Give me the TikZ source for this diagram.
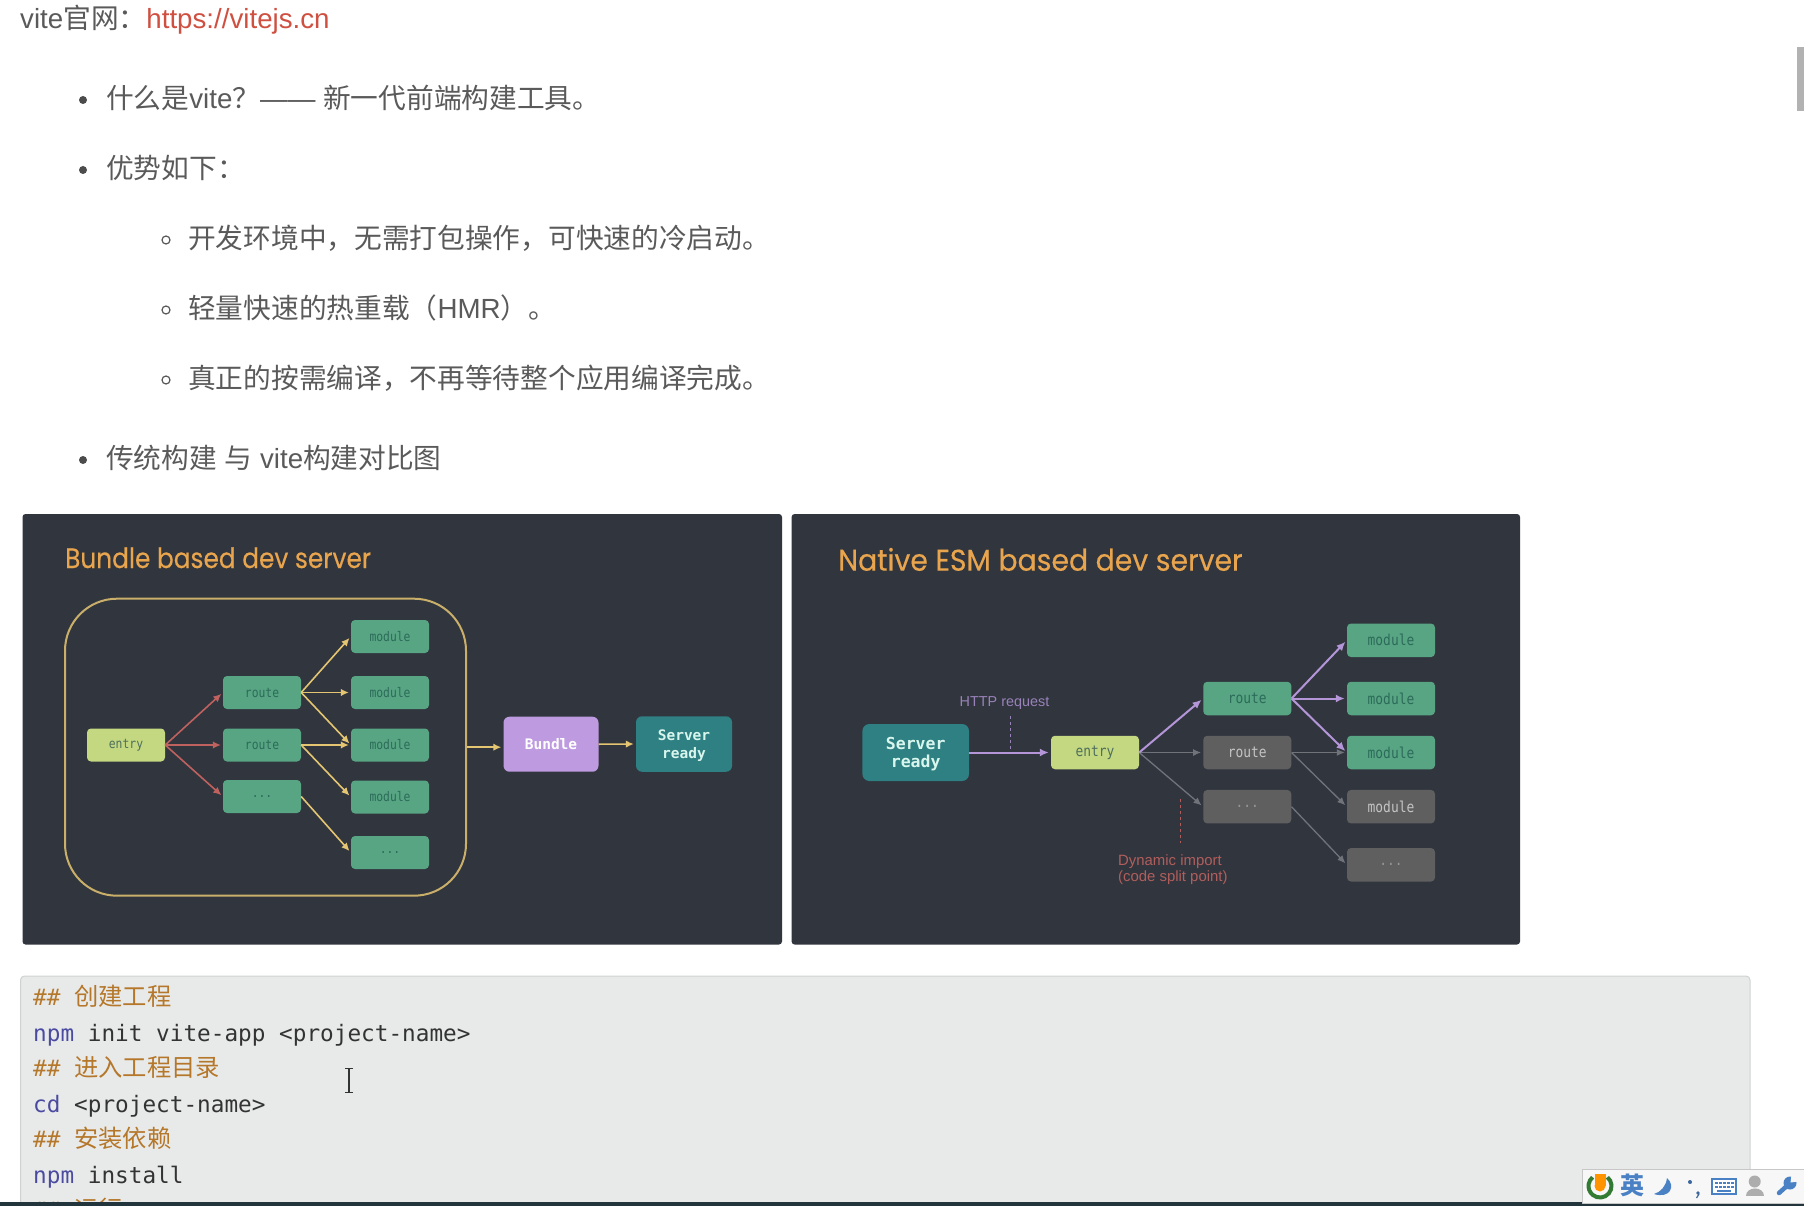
\documentclass[tikz,border=0pt]{standalone}
\usepackage{fontspec}
\usetikzlibrary{arrows.meta}
\setmainfont{Liberation Sans}
\newfontfamily\cjk{Noto Sans CJK SC}
\newfontfamily\codefont{DejaVu Sans Mono}
\newfontfamily\narrowcode[FakeStretch=0.86]{DejaVu Sans Mono}
\newfontfamily\titlefont[FakeStretch=0.886,FakeBold=0.3]{Poppins}
\newfontfamily\titlefontb[FakeStretch=0.943,FakeBold=0.3]{Poppins}
\definecolor{panelbg}{HTML}{31353E}
\definecolor{modfill}{HTML}{58A583}
\definecolor{modtext}{HTML}{2C6B5A}
\definecolor{entryfill}{HTML}{C3D880}
\definecolor{entrytext}{HTML}{4F6F5C}
\definecolor{bundlefill}{HTML}{BE9BE0}
\definecolor{serverfill}{HTML}{2F8082}
\definecolor{servertext}{HTML}{D8F6EE}
\definecolor{grayfill}{HTML}{5F5F60}
\definecolor{graytext}{HTML}{C4C4C4}
\definecolor{yellowline}{HTML}{E4C572}
\definecolor{redline}{HTML}{BF625F}
\definecolor{purpleline}{HTML}{B395D8}
\definecolor{greyline}{HTML}{70737A}
\definecolor{titleorange}{HTML}{E8A54E}
\definecolor{bodygray}{HTML}{5A5A5A}
\definecolor{linkred}{HTML}{CF5040}
\definecolor{codebg}{HTML}{E8EAEA}
\definecolor{codeborder}{HTML}{D0D2D2}
\definecolor{codebrown}{HTML}{B5772A}
\definecolor{codeblue}{HTML}{4A4AA0}
\definecolor{codeink}{HTML}{333333}
\definecolor{barcolor}{HTML}{22343C}
\definecolor{imeblue}{HTML}{4A80C4}
\definecolor{imebg}{HTML}{F7F7F7}
\tikzset{
  x=1pt,y=-1pt,
  panel/.style={fill=panelbg,draw=none,rounded corners=3pt},
  bx/.style={rounded corners=4pt,draw=none,inner sep=0pt,align=center},
  lmod/.style={bx,fill=modfill,text=modtext,minimum width=78pt,minimum height=33pt,font=\narrowcode\fontsize{13.2}{14}\selectfont},
  lentry/.style={lmod,fill=entryfill,text=entrytext},
  rmod/.style={bx,fill=modfill,text=modtext,minimum width=88pt,minimum height=33.5pt,font=\narrowcode\fontsize{15}{16}\selectfont},
  rgray/.style={rmod,fill=grayfill,text=graytext},
  rentry/.style={rmod,fill=entryfill,text=entrytext},
  bigtext/.style={bx,font=\codefont\bfseries\fontsize{14.5}{18}\selectfont},
  yarrow/.style={draw=yellowline,line width=1.6pt,-{Latex[length=8pt,width=7.5pt]},shorten >=2pt},
  rarrow/.style={draw=redline,line width=1.6pt,-{Latex[length=8pt,width=7.5pt]},shorten >=2pt},
  parrow/.style={draw=purpleline,line width=2pt,-{Latex[length=9pt,width=8pt]},shorten >=2pt},
  garrow/.style={draw=greyline,line width=1.3pt,-{Latex[length=8pt,width=7pt]},shorten >=2pt},
  titletext/.style={inner sep=0pt,anchor=base west,text=titleorange,font=\titlefont\fontsize{28}{30}\selectfont},
  bodytext/.style={inner sep=0pt,anchor=base west,text=bodygray,font=\fontsize{27.7}{30}\selectfont},
  codetext/.style={inner sep=0pt,anchor=base west,text=codeink,font=\codefont\fontsize{22.7}{26}\selectfont},
  bulletfull/.style={circle,fill=bodygray!85!black,draw=none,inner sep=0pt,minimum size=8pt},
  bullethollow/.style={circle,draw=bodygray,line width=1.2pt,fill=white,inner sep=0pt,minimum size=8pt},
}
\begin{document}
\begin{tikzpicture}
\useasboundingbox (0,0) rectangle (1804,1206);
\fill[white] (0,0) rectangle (1804,1206);

% top text
\node[bodytext] (t0) at (20,29) {vite{\cjk 官网：}\textcolor{linkred}{https://vitejs.cn}};
\node[bulletfull] (b1) at (83,100) {};
\node[bodytext] (t1) at (106,109) {{\cjk 什么是}vite{\cjk ？}—— {\cjk 新一代前端构建工具。}};
\node[bulletfull] (b2) at (83,170) {};
\node[bodytext] (t2) at (106,179) {\cjk 优势如下：};
\node[bullethollow] (b3) at (166,240) {};
\node[bodytext] (t3) at (188,249) {\cjk 开发环境中，无需打包操作，可快速的冷启动。};
\node[bullethollow] (b4) at (166,310) {};
\node[bodytext] (t4) at (188,319) {{\cjk 轻量快速的热重载（}HMR{\cjk ）。}};
\node[bullethollow] (b5) at (166,380) {};
\node[bodytext] (t5) at (188,388) {\cjk 真正的按需编译，不再等待整个应用编译完成。};
\node[bulletfull] (b6) at (83,460) {};
\node[bodytext] (t6) at (106,468) {{\cjk 传统构建} {\cjk 与} vite{\cjk 构建对比图}};

% left panel
\fill[panel] (22.5,514) rectangle (782,944.5);
\node[titletext] (ltitle) at (65,568) {Bundle based dev server};
\node[draw=yellowline!85!panelbg,line width=2pt,rounded corners=52pt,minimum width=401pt,minimum height=297pt,inner sep=0pt] (bigbox) at (265.5,747.2) {};
\node[lentry] (lentry) at (126,745) {entry};
\node[lmod] (lr1) at (262,692.5) {route};
\node[lmod] (lr2) at (262,745) {route};
\node[lmod] (lr3) at (262,796.5) {...};
\node[lmod] (lm1) at (390,636.5) {module};
\node[lmod] (lm2) at (390,692.5) {module};
\node[lmod] (lm3) at (390,745) {module};
\node[lmod] (lm4) at (390,797) {module};
\node[lmod] (lm5) at (390,852.5) {...};
\node[bigtext,fill=bundlefill,text=white,minimum width=95pt,minimum height=55pt,rounded corners=6pt] (bundle) at (551,744.2) {Bundle};
\node[bigtext,fill=serverfill,text=servertext,minimum width=96pt,minimum height=55.5pt,rounded corners=6pt] (lserver) at (684,744) {\rule{0pt}{13pt}Server\\ready};
\foreach \a/\b in {lentry/lr1,lentry/lr2,lentry/lr3} \draw[rarrow] (\a.east) -- (\b.west);
\foreach \a/\b in {lr1/lm1,lr1/lm2,lr1/lm3,lr2/lm3,lr2/lm4,lr3/lm5} \draw[yarrow] (\a.east) -- (\b.west);
\draw[yarrow] (bigbox.east |- bundle.center) ++(0,3) coordinate (bbout) -- (bbout -| bundle.west);
\draw[yarrow] (bundle.east) -- (lserver.west);

% right panel
\fill[panel] (791.6,514) rectangle (1520,944.5);
\node[titletext,font=\titlefontb\fontsize{30}{32}\selectfont] (rtitle) at (838,570.7) {Native ESM based dev server};
\node[bigtext,fill=serverfill,text=servertext,minimum width=106.6pt,minimum height=57pt,rounded corners=7pt,font=\codefont\bfseries\fontsize{16.5}{18.5}\selectfont] (rserver) at (915.7,752.5) {\rule{0pt}{15pt}Server\\ready};
\node[rentry] (rentry) at (1095,752.5) {entry};
\node[rmod] (rr1) at (1247.3,698.5) {route};
\node[rgray] (rr2) at (1247.3,752.5) {route};
\node[rgray,text=graytext!55!grayfill] (rr3) at (1247.3,806.7) {...};
\node[rmod] (rm1) at (1391,640.3) {module};
\node[rmod] (rm2) at (1391,698.5) {module};
\node[rmod] (rm3) at (1391,752.5) {module};
\node[rgray] (rm4) at (1391,806.7) {module};
\node[rgray,text=graytext!55!grayfill] (rm5) at (1391,864.8) {...};
\draw[parrow] (rserver.east) -- (rentry.west);
\draw[garrow] (rentry.east) -- (rr2.west);
\draw[garrow] (rentry.east) -- (rr3.west);
\draw[garrow] (rr2.east) -- (rm3.west);
\draw[garrow] (rr2.east) -- (rm4.west);
\draw[garrow] (rr3.east) -- (rm5.west);
\draw[parrow] (rentry.east) -- (rr1.west);
\draw[parrow] (rr1.east) -- (rm1.west);
\draw[parrow] (rr1.east) -- (rm2.west);
\draw[parrow] (rr1.east) -- (rm3.west);
\node[inner sep=0pt,anchor=center,text=purpleline!80!panelbg,font=\fontsize{14.4}{16}\selectfont] (http) at (1004.5,703) {HTTP request};
\coordinate (httpb) at (1010,750);
\draw[draw=purpleline!80!panelbg,line width=1pt,dashed] (1010,716) -- (httpb);
\node[inner sep=0pt,anchor=north west,align=left,text=redline!90!panelbg,font=\fontsize{14.9}{16.3}\selectfont] (dyn) at (1118,854.5) {Dynamic import\\(code split point)};
\draw[draw=redline!90!panelbg,line width=1pt,dashed] (1180,799) -- (1180,843);

% code block
\fill[codebg,draw=codeborder,line width=1pt,rounded corners=4pt] (20.5,976) rectangle (1750,1230);
\node[codetext,text=codebrown] (c1) at (33,1005) {\#\# {\cjk\fontsize{24.3}{26}\selectfont 创建工程}};
\node[codetext] (c2) at (33,1041) {\textcolor{codeblue}{npm} init vite-app <project-name>};
\node[codetext,text=codebrown] (c3) at (33,1076) {\#\# {\cjk\fontsize{24.3}{26}\selectfont 进入工程目录}};
\node[codetext] (c4) at (33,1112) {\textcolor{codeblue}{cd} <project-name>};
\node[codetext,text=codebrown] (c5) at (33,1147) {\#\# {\cjk\fontsize{24.3}{26}\selectfont 安装依赖}};
\node[codetext] (c6) at (33,1183) {\textcolor{codeblue}{npm} install};
\node[codetext,text=codebrown] (c7) at (33,1218) {\#\# {\cjk\fontsize{24.3}{26}\selectfont 运行}};
\fill[barcolor] (0,1202) rectangle (1804,1206);

% text cursor
\draw[black!80,line width=1.2pt] (349,1069) -- (349,1092) (345,1068.5) -- (353,1068.5) (345,1092.5) -- (353,1092.5);

% scrollbar
\fill[black!30] (1796.7,46.7) rectangle (1804,111.5);

% input method toolbar
\fill[imebg,draw=black!22,line width=1pt] (1582,1169) rectangle (1806,1203);
\draw[draw=green!35!black!80!white,line width=4pt] (1600,1186) ++(-50:11.5) arc (-50:230:11.5);
\fill[orange!85!yellow] (1594.5,1173.5) rectangle (1605.5,1186);
\fill[orange!85!yellow] (1600,1186) circle (5.5pt);
\node[inner sep=0pt,text=imeblue,font=\cjk\bfseries\fontsize{24}{24}\selectfont] (ying) at (1632,1185) {英};
\fill[imeblue] (1667,1178) .. controls (1676,1186) and (1670,1199) .. (1654,1194) .. controls (1661,1192) and (1666,1186) .. (1667,1178) -- cycle;
\fill[imeblue!80!black] (1690,1182) circle (2pt);
\fill[imeblue!80!black] (1698,1193) circle (1.8pt);
\draw[imeblue!80!black,line width=1.2pt] (1699,1194) -- (1696.5,1198);
\fill[imeblue] (1710.7,1177.7) rectangle (1736.7,1195.3);
\fill[white] (1713,1180) rectangle (1734.5,1193);
\foreach \kx in {1715,1719,1723,1727,1731} {
  \fill[imeblue] (\kx,1182) rectangle ++(2.6,2.4);
  \fill[imeblue] (\kx,1186) rectangle ++(2.6,2.4);
}
\fill[imeblue] (1717,1190) rectangle (1731,1192);
\fill[black!32] (1754.7,1181.5) circle (6pt);
\fill[black!32] (1746,1195.5) .. controls (1746,1186) and (1763.5,1186) .. (1763.5,1195.5) -- cycle;
\draw[imeblue,line width=4.5pt,line cap=round] (1779,1193) -- (1789,1184);
\fill[imeblue] (1790,1183) circle (6.5pt);
\fill[imebg] (1790.5,1182.5) -- (1791.5,1175) -- (1798.5,1181.5) -- cycle;
\end{tikzpicture}
\end{document}
